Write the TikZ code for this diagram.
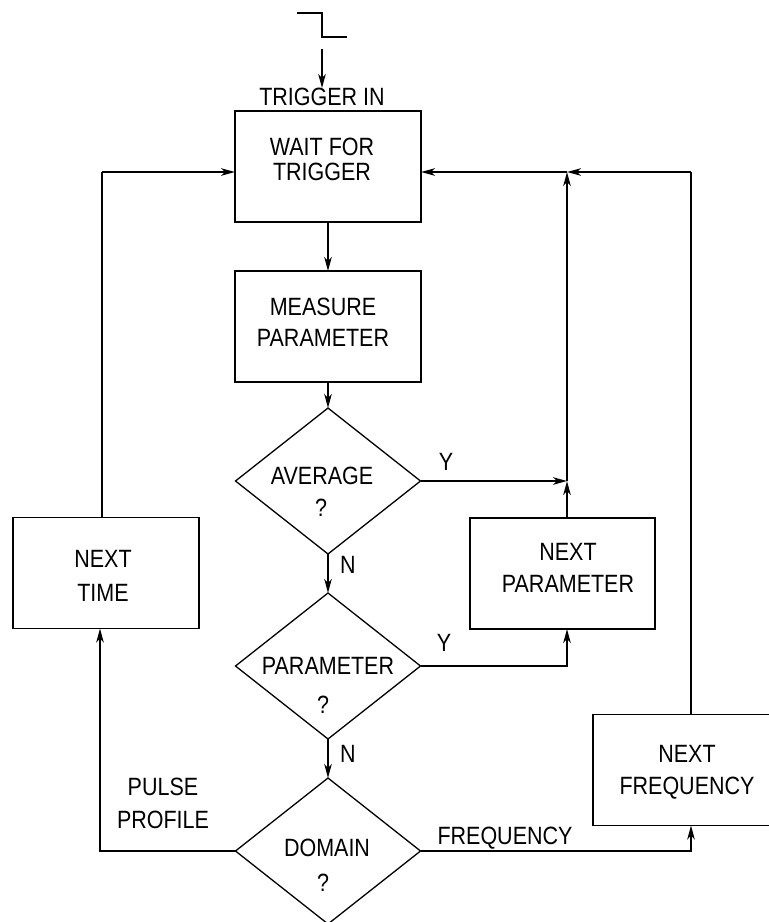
\documentclass[tikz,border=0pt]{standalone}
\usepackage{fontspec}
\setmainfont{Liberation Sans}[FakeStretch=0.86]
\usetikzlibrary{shapes.geometric,arrows.meta}
\tikzset{
  box/.style={draw, line width=1.7pt, rectangle, minimum width=186pt, minimum height=111pt, inner sep=0pt, outer sep=0pt},
  dia/.style={draw, line width=1.3pt, diamond, minimum width=185pt, minimum height=146pt, inner sep=0pt, outer sep=0pt},
  txt/.style={inner sep=0pt, outer sep=0pt, anchor=base, font=\fontsize{25}{33}\selectfont, align=center},
  mtxt/.style={inner sep=0pt, outer sep=0pt, anchor=center, font=\fontsize{25}{33}\selectfont, align=center},
  conn/.style={line width=1.7pt},
  arr/.style={conn, -{Stealth[length=14pt,width=7.5pt,inset=4pt]}},
  thinconn/.style={line width=1.1pt}
}
\begin{document}
\begin{tikzpicture}[x=1pt,y=-1pt]
\useasboundingbox (0,0) rectangle (769,922);
\clip (0,0) rectangle (769,922);
\fill[white] (0,0) rectangle (769,922);

% pulse symbol
\coordinate (p1) at (297,13);
\coordinate (p2) at (322,13);
\coordinate (p3) at (322,37);
\coordinate (p4) at (347,37);
\draw[conn] (p1) -- (p2) -- (p3) -- (p4);

% trigger label
\node[txt] (trig) at (322,105.5) {TRIGGER IN};
\coordinate (tstart) at (322,49);

% boxes
\node[box] (wait) at (328,166.5) {};
\node[box] (meas) at (328,326.5) {};
\node[box] (ntime) at (106,573) {};
\node[box, minimum width=185pt] (npar) at (562.5,573.5) {};
\node[box, minimum width=196pt] (nfreq) at (691,770) {};

\node[mtxt, font=\fontsize{25}{25}\selectfont] (waitt) at (322,159.5) {WAIT FOR\\TRIGGER};
\node[mtxt, font=\fontsize{25}{31}\selectfont] (meast) at (323,322.5) {MEASURE\\PARAMETER};
\node[mtxt, font=\fontsize{25}{34}\selectfont] (ntimet) at (103,576) {NEXT\\TIME};
\node[mtxt, font=\fontsize{25}{32}\selectfont] (npart) at (568,568) {NEXT\\PARAMETER};
\node[mtxt, font=\fontsize{25}{32}\selectfont] (nfreqt) at (687,772) {NEXT\\FREQUENCY};

% diamonds
\node[dia] (avg) at (328,481) {};
\node[dia] (par) at (328,666) {};
\node[dia] (dom) at (328,851) {};

\node[txt] (avgw) at (322,484.5) {AVERAGE};
\node[txt] (avgq) at (321,516.5) {?};
\node[txt] (parw) at (328,674.5) {PARAMETER};
\node[txt] (parq) at (323,713.5) {?};
\node[txt] (domw) at (327,856.5) {DOMAIN};
\node[txt] (domq) at (323,891.5) {?};

% labels
\node[txt] (y1) at (446,470.5) {Y};
\node[txt] (y2) at (444,651.5) {Y};
\node[txt] (n1) at (348,573.5) {N};
\node[txt] (n2) at (348,762.5) {N};
\node[mtxt] (pp) at (163,803.5) {PULSE\\PROFILE};
\node[txt] (fq) at (505,844.5) {FREQUENCY};

% junctions
\coordinate (j1) at (567,481);
\coordinate (j2) at (567,172);
\coordinate (tl) at (102,172);
\coordinate (fr) at (691,172);

% connectors
\draw[arr] (tstart) -- (trig.north);
\draw[arr] (wait) -- (meas);
\draw[arr] (meas) -- (avg.north);
\draw[arr] (avg.south) -- (par.north);
\draw[arr] (par.south) -- (dom.north);
\draw[arr] (avg.east) -- (j1);
\draw[arr] (j1 |- npar.north) -- (j1);
\draw[arr] (j1) -- (j2);
\draw[arr] (j2) -- (j2 -| wait.east);
\draw[thinconn] (nfreq.north) -- (fr);
\draw[arr] (fr) -- (j2);
\draw[arr] (par.east) -| (j1 |- npar.south);
\draw[conn] (tl |- ntime.north) -- (tl);
\draw[arr] (tl) -- (tl -| wait.west);
\draw[arr] (dom.west) -| ([xshift=-6pt]ntime.south);
\draw[arr] (dom.east) -| (nfreq.south);
\end{tikzpicture}
\end{document}
